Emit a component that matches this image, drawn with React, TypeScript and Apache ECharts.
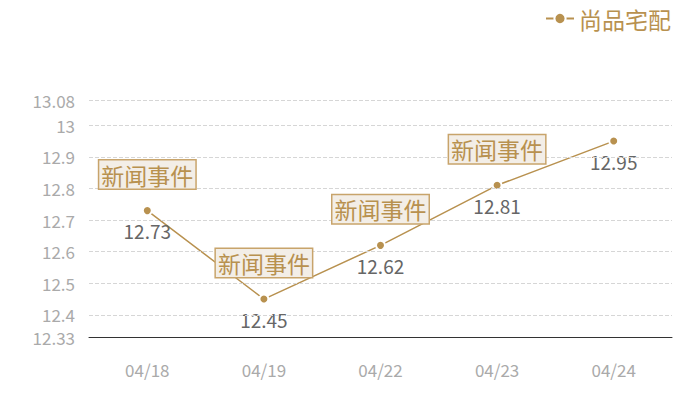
import React, { useEffect, useRef } from "react";
import * as echarts from "echarts";

const dates = ["04/18", "04/19", "04/22", "04/23", "04/24"];
const prices = [12.73, 12.45, 12.62, 12.81, 12.95];
const eventIndexes = [0, 1, 2, 3];
const eventLabel = "新闻事件";
const seriesName = "尚品宅配";

// y axis: extent and the gridlines drawn across it
const yMin = 12.33;
const yMax = 13.08;
const gridValues = [12.4, 12.5, 12.6, 12.7, 12.8, 12.9, 13.0, 13.08];

const GOLD = "#b8914f";

const App = () => {
  const chartRef = useRef(null);

  // eslint-disable-next-line consistent-return
  useEffect(() => {
    document.body.style.margin = "0";
    if (chartRef.current) {
      const chart = echarts.init(chartRef.current, null, { renderer: "svg" });

      const options: echarts.EChartsOption = {
        animation: false,
        textStyle: { fontFamily: "Noto Sans CJK SC" },
        grid: { top: 100, right: 28, bottom: 63, left: 89 },
        legend: {
          right: 24,
          top: 2,
          itemWidth: 28,
          itemHeight: 14,
          textStyle: { color: GOLD, fontSize: 23 },
          data: [seriesName],
        },
        xAxis: {
          type: "category",
          data: dates,
          axisLine: { lineStyle: { color: "#333" } },
          axisTick: { show: false },
          axisLabel: { color: "#aaa", fontSize: 17, margin: 24 },
        },
        yAxis: {
          type: "value",
          min: yMin,
          max: yMax,
          // fine step so both the extent ends and the tenths become ticks
          interval: 0.01,
          axisLine: { show: false },
          axisTick: { show: false },
          splitLine: { show: false },
          axisLabel: {
            color: "#aaa",
            fontSize: 17,
            lineHeight: 16,
            margin: 14,
            formatter: (v: number) => {
              const r = Math.round(v * 100);
              if (r % 10 === 0 || r === Math.round(yMin * 100) || r === Math.round(yMax * 100)) {
                return String(r / 100);
              }
              return "";
            },
          },
        },
        series: [
          {
            name: "grid",
            type: "line",
            data: [],
            silent: true,
            z: 1,
            markLine: {
              silent: true,
              symbol: "none",
              label: { show: false },
              lineStyle: { color: "#d6d6d6", type: "dashed", width: 1 },
              data: gridValues.map((v) => ({ yAxis: v })),
            },
          },
          {
            name: seriesName,
            type: "line",
            data: prices,
            z: 3,
            symbol: "circle",
            symbolSize: 9,
            itemStyle: { color: GOLD, borderColor: "#fff", borderWidth: 2 },
            lineStyle: { color: GOLD, width: 1.5 },
            label: {
              show: true,
              position: "bottom",
              distance: 5,
              color: "#666",
              fontSize: 19,
            },
            markPoint: {
              symbol: "circle",
              symbolSize: 0,
              label: {
                show: true,
                formatter: eventLabel,
                offset: [0, -36],
                color: GOLD,
                fontSize: 23,
                backgroundColor: "#f3eee7",
                borderColor: "#c8a46b",
                borderWidth: 1.5,
                padding: [3, 2, 2, 2],
              },
              data: eventIndexes.map((i) => ({
                coord: [dates[i], prices[i]],
                value: prices[i],
              })),
            },
          },
        ],
      };
      chart.setOption(options);
      return () => {
        chart.dispose();
      };
    }
  }, []);

  return <div ref={chartRef} style={{ width: "700px", height: "400px" }} />;
};

export default App;
